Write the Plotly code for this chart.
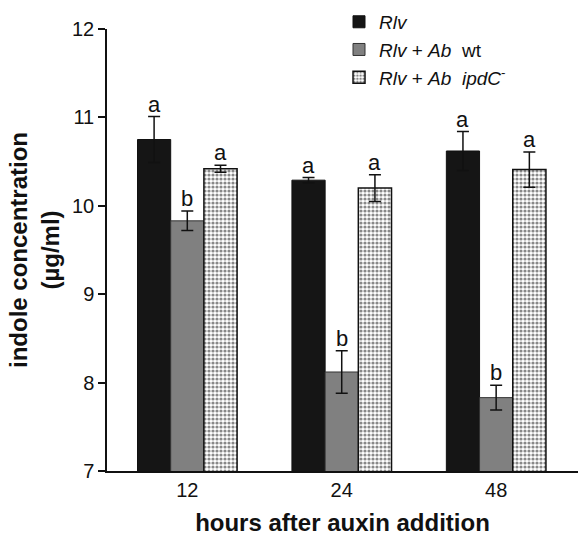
import plotly.graph_objects as go

hours = ["12", "24", "48"]
rlv = [10.75, 10.29, 10.62]
rlv_err = [0.26, 0.03, 0.22]
ab_wt = [9.83, 8.12, 7.83]
ab_wt_err = [0.11, 0.24, 0.14]
ab_ipdc = [10.42, 10.20, 10.41]
ab_ipdc_err = [0.04, 0.15, 0.20]
letters_rlv = ["a", "a", "a"]
letters_wt = ["b", "b", "b"]
letters_ipdc = ["a", "a", "a"]

FONT = "Liberation Sans, Arial, Helvetica, sans-serif"

fig = go.Figure()
err_style = dict(type="data", thickness=1.5, width=6, color="#111111")

fig.add_trace(go.Bar(
    x=hours, y=rlv, name="<i>Rlv</i>",
    marker=dict(color="#151515", line=dict(color="#111111", width=1)),
    error_y=dict(array=rlv_err, **err_style),
))
fig.add_trace(go.Bar(
    x=hours, y=ab_wt, name="<i>Rlv</i> + <i>Ab</i>  wt",
    marker=dict(color="#808080", line=dict(color="#333333", width=1)),
    error_y=dict(array=ab_wt_err, **err_style),
))
fig.add_trace(go.Bar(
    x=hours, y=ab_ipdc, name="<i>Rlv</i> + <i>Ab</i>  <i>ipdC</i><sup>-</sup>",
    marker=dict(color="white", line=dict(color="#111111", width=1.5),
                pattern=dict(shape=".", fgcolor="#111111", bgcolor="white",
                             size=4, solidity=0.5)),
    error_y=dict(array=ab_ipdc_err, **err_style),
))

offsets = [-1, 0, 1]
bar_w = 0.645 / 3
for k, (vals, errs, labs) in enumerate([(rlv, rlv_err, letters_rlv),
                                        (ab_wt, ab_wt_err, letters_wt),
                                        (ab_ipdc, ab_ipdc_err, letters_ipdc)]):
    for i in range(3):
        fig.add_annotation(
            x=i + offsets[k] * bar_w, y=vals[i] + errs[i], xref="x", yref="y",
            text=labs[i], showarrow=False, yanchor="bottom", yshift=-2,
            font=dict(family=FONT, size=22, color="#111111"),
        )

fig.update_layout(
    width=579, height=536,
    margin=dict(l=107, r=1, t=29, b=65),
    plot_bgcolor="white", paper_bgcolor="white",
    barmode="group", bargap=0.355, bargroupgap=0,
    font=dict(family=FONT, size=20, color="#111111"),
    legend=dict(x=0.4926, y=1.059, xanchor="left", yanchor="top",
                bgcolor="rgba(0,0,0,0)", font=dict(size=19),
                tracegroupgap=0, itemwidth=30),
    showlegend=True,
)
fig.update_xaxes(
    type="category", range=[-0.52, 2.53],
    showline=True, linecolor="#111111", linewidth=1.5,
    ticks="", tickfont=dict(size=20),
    title=dict(text="<b>hours after auxin addition</b>", font=dict(size=24), standoff=16),
)
fig.update_yaxes(
    range=[7, 12], tickvals=[7, 8, 9, 10, 11, 12],
    showline=True, linecolor="#111111", linewidth=1.5,
    ticks="outside", ticklen=7, tickwidth=1.5, tickcolor="#111111",
    tickfont=dict(size=20), showgrid=False, zeroline=False,
    title=dict(text="<b>indole concentration<br>(µg/ml)</b>", font=dict(size=24), standoff=6),
)

fig.write_html("out.html", config={"displayModeBar": False},
               post_script="document.body.style.margin='0';")
